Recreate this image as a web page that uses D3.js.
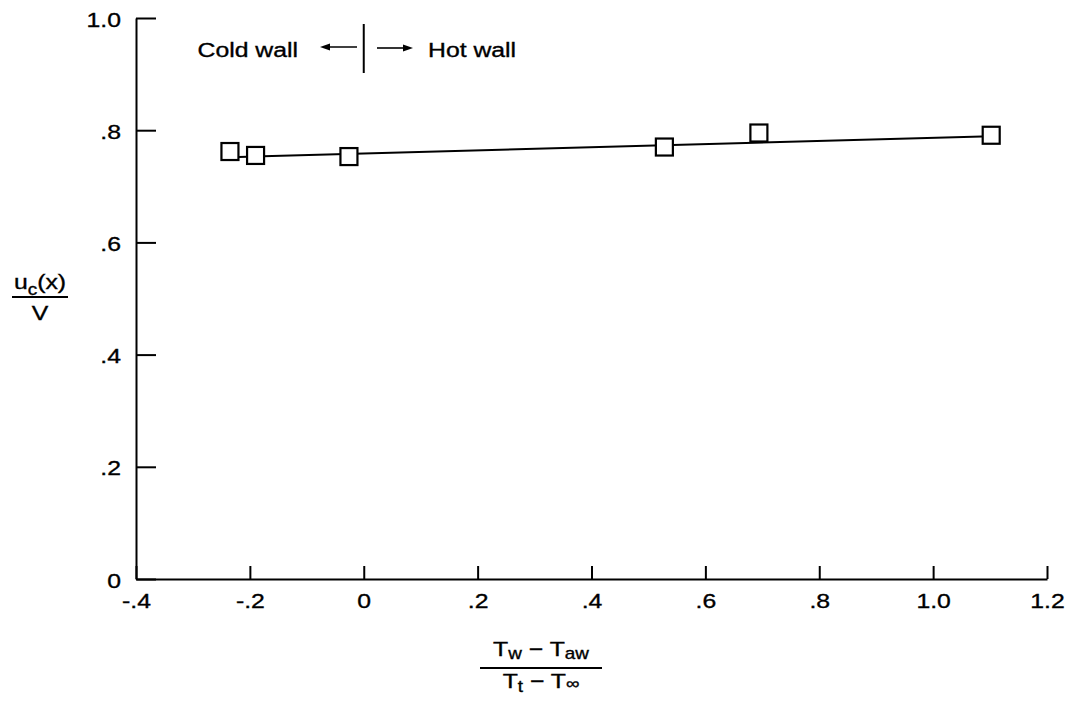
<!DOCTYPE html>
<html>
<head>
<meta charset="utf-8">
<script src="https://cdn.jsdelivr.net/npm/d3@7"></script>
<style>
  body { margin: 0; background: #fff; }
  text { font-family: "Liberation Sans", Arial, Helvetica, sans-serif; fill: #000; stroke: #000; stroke-width: 0.35px; }
</style>
</head>
<body>
<div id="chart"></div>
<script>
// data
var xTicks = [-0.4, -0.2, 0, 0.2, 0.4, 0.6, 0.8, 1.0, 1.2];
var yTicks = [0, 0.2, 0.4, 0.6, 0.8, 1.0];
var ptX = [-0.235, -0.190, -0.026, 0.528, 0.694, 1.102];
var ptY = [0.762, 0.755, 0.753, 0.770, 0.795, 0.791];
var fitX = [-0.235, 1.102];
var fitY = [0.752, 0.789];

var W = 1075, H = 719;
var sx = 1.18;   // the scan is stretched sideways, so the type is too
var fs = 21;

var svg = d3.select("#chart").append("svg")
  .attr("width", W).attr("height", H);

var x = d3.scaleLinear().domain([-0.4, 1.2]).range([136, 1047]);
var y = d3.scaleLinear().domain([0, 1]).range([579, 18]);

var fmt = function (d) {
  if (d === 0) return "0";
  if (Math.abs(d) >= 1) return d.toFixed(1);
  return d.toFixed(1).replace("0.", ".");
};

// x axis, ticks pointing up
var gx = svg.append("g").attr("transform", "translate(0," + y(0) + ")")
  .call(d3.axisBottom(x).tickValues(xTicks).tickSize(-13).tickSizeOuter(0).tickFormat(fmt));
gx.select(".domain").attr("stroke-width", 2);
gx.selectAll(".tick line").attr("stroke-width", 2);
gx.selectAll(".tick text")
  .attr("x", 0).attr("y", 0).attr("dy", 0)
  .attr("transform", "translate(0,29) scale(" + sx + ",1)")
  .style("font-size", fs + "px");

// y axis, ticks pointing right
var gy = svg.append("g").attr("transform", "translate(" + x(-0.4) + ",0)")
  .call(d3.axisLeft(y).tickValues(yTicks).tickSize(-20).tickSizeOuter(0).tickFormat(fmt));
gy.select(".domain").attr("stroke-width", 2);
gy.selectAll(".tick line").attr("stroke-width", 2);
gy.selectAll(".tick text")
  .attr("x", 0).attr("dy", 0).attr("y", 0)
  .attr("text-anchor", "end")
  .attr("transform", "translate(-15,8) scale(" + sx + ",1)")
  .style("font-size", fs + "px");
svg.selectAll(".domain, .tick line").attr("stroke", "#000");
svg.selectAll(".tick text").attr("fill", "#000");

// fitted line
svg.append("path")
  .datum(d3.zip(fitX, fitY))
  .attr("d", d3.line().x(function (d) { return x(d[0]); }).y(function (d) { return y(d[1]); }))
  .attr("fill", "none").attr("stroke", "#000").attr("stroke-width", 2);

// square symbols
var sq = 17;
svg.append("g").selectAll("rect")
  .data(d3.zip(ptX, ptY))
  .enter().append("rect")
  .attr("x", function (d) { return x(d[0]) - sq / 2; })
  .attr("y", function (d) { return y(d[1]) - sq / 2; })
  .attr("width", sq).attr("height", sq)
  .attr("fill", "#fff").attr("stroke", "#000").attr("stroke-width", 2.2);

// cold wall / hot wall marker
var ann = svg.append("g");
ann.append("line")
  .attr("x1", x(0)).attr("x2", x(0)).attr("y1", 24).attr("y2", 73)
  .attr("stroke", "#000").attr("stroke-width", 2);
function arrow(x0, x1, yy) {
  var dir = x1 > x0 ? 1 : -1;
  ann.append("line").attr("x1", x0).attr("x2", x1 - dir * 4).attr("y1", yy).attr("y2", yy)
    .attr("stroke", "#000").attr("stroke-width", 1.6);
  ann.append("path")
    .attr("d", "M" + x1 + "," + yy + "L" + (x1 - dir * 10) + "," + (yy - 3.5) + "L" + (x1 - dir * 10) + "," + (yy + 3.5) + "Z")
    .attr("fill", "#000");
}
arrow(357, 320, 47);
arrow(377, 413, 48);
ann.append("text").attr("text-anchor", "end")
  .attr("transform", "translate(298,57) scale(" + sx + ",1)")
  .style("font-size", fs + "px").text("Cold wall");
ann.append("text").attr("text-anchor", "start")
  .attr("transform", "translate(428,57) scale(" + sx + ",1)")
  .style("font-size", fs + "px").text("Hot wall");

// y label: u_c(x) / V
var yl = svg.append("g");
var yn = yl.append("text").attr("text-anchor", "middle")
  .attr("transform", "translate(40,289) scale(" + sx + ",1)")
  .style("font-size", fs + "px");
yn.append("tspan").text("u");
yn.append("tspan").attr("dy", 6).style("font-size", "16px").text("c");
yn.append("tspan").attr("dy", -6).text("(x)");
yl.append("line").attr("x1", 12).attr("x2", 68).attr("y1", 297).attr("y2", 297)
  .attr("stroke", "#000").attr("stroke-width", 2);
yl.append("text").attr("text-anchor", "middle")
  .attr("transform", "translate(40,320) scale(" + sx + ",1)")
  .style("font-size", fs + "px").text("V");

// x label: (Tw - Taw) / (Tt - T∞)
var xl = svg.append("g");
var xn = xl.append("text").attr("text-anchor", "middle")
  .attr("transform", "translate(541,656) scale(" + sx + ",1)")
  .style("font-size", fs + "px");
xn.append("tspan").text("T");
xn.append("tspan").attr("dy", 3).style("font-size", "16px").text("w");
xn.append("tspan").attr("dy", -3).text(" \u2212 T");
xn.append("tspan").attr("dy", 3).style("font-size", "16px").text("aw");
xl.append("line").attr("x1", 480).attr("x2", 602).attr("y1", 668).attr("y2", 668)
  .attr("stroke", "#000").attr("stroke-width", 2);
var xd = xl.append("text").attr("text-anchor", "middle")
  .attr("transform", "translate(541,688) scale(" + sx + ",1)")
  .style("font-size", fs + "px");
xd.append("tspan").text("T");
xd.append("tspan").attr("dy", 4).style("font-size", "16px").text("t");
xd.append("tspan").attr("dy", -4).text(" \u2212 T");
xd.append("tspan").attr("dy", 1).style("font-size", "16px").text("\u221E");
</script>
</body>
</html>
